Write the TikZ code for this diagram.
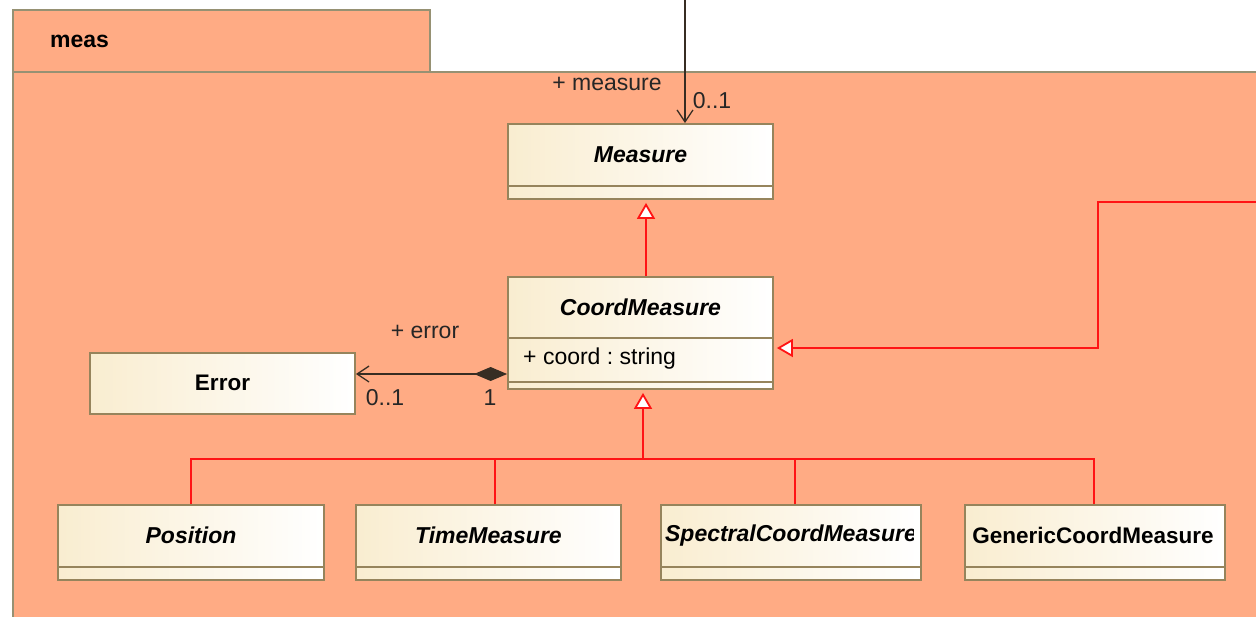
\documentclass[tikz,border=0pt]{standalone}
\usepackage{fontspec}
\setmainfont{Liberation Sans}
\usetikzlibrary{arrows.meta}
\frenchspacing
\definecolor{pkgfill}{RGB}{255,171,132}
\definecolor{pkgline}{RGB}{150,145,115}
\definecolor{clsline}{RGB}{150,132,92}
\definecolor{clsleft}{RGB}{249,237,208}
\definecolor{assocline}{RGB}{55,45,35}
\definecolor{genred}{RGB}{255,20,20}
\tikzset{
  pkg/.style={draw=pkgline, fill=pkgfill, line width=1.2pt},
  cls/.style={draw=clsline, line width=1.8pt, left color=clsleft, right color=white, inner sep=0pt, rectangle},
  divider/.style={draw=clsline, line width=1.8pt},
  clsname/.style={font=\fontsize{23}{25}\selectfont\bfseries\itshape, inner sep=0pt},
  clsnameup/.style={font=\fontsize{22.5}{25}\selectfont\bfseries, inner sep=0pt},
  attr/.style={font=\fontsize{23}{25}\selectfont, inner sep=0pt, anchor=west},
  lbl/.style={font=\fontsize{23}{25}\selectfont, inner sep=0pt, text=black!85},
  genline/.style={draw=genred, line width=1.8pt},
  genarrow/.style={genline, -{Triangle[width=18pt,length=16pt,fill=white]}, shorten >=3pt},
  assoc/.style={draw=assocline, line width=1.5pt},
}
\begin{document}
\begin{tikzpicture}[x=1pt,y=-1pt]
\useasboundingbox (0,0) rectangle (1256,616);
\begin{scope}
\clip (0,0) rectangle (1256,616);
% package
\path[pkg] (13,10) rectangle (430,72);
\path[pkg] (13,72) rectangle (1262,625);
\node[font=\fontsize{23}{25}\selectfont\bfseries, anchor=west, inner sep=0pt] (pkgname) at (50,41) {meas};

% classes
\node[cls, minimum width=265pt, minimum height=75pt] (measure) at (640.5,161.5) {};
\draw[divider] (508,186) -- (773,186);
\node[clsname] (measuret) at (640.5,155) {Measure};

\node[cls, minimum width=265pt, minimum height=112pt] (coord) at (640.5,333) {};
\draw[divider] (508,338) -- (773,338);
\draw[divider] (508,382) -- (773,382);
\node[clsname] (coordt) at (640.5,307.5) {CoordMeasure};
\node[attr] (coorda) at (523,359) {+ coord : string};

\node[cls, minimum width=265pt, minimum height=61pt] (error) at (222.5,383.5) {};
\node[clsnameup] (errort) at (222.5,383) {Error};

\node[cls, minimum width=266pt, minimum height=75pt] (position) at (191,542.5) {};
\draw[divider] (58,567) -- (324,567);
\node[clsname] (positiont) at (191,535.5) {Position};

\node[cls, minimum width=265pt, minimum height=75pt] (time) at (488.5,542.5) {};
\draw[divider] (356,567) -- (621,567);
\node[clsname] (timet) at (488.5,535.5) {TimeMeasure};

\node[cls, minimum width=260pt, minimum height=75pt] (spectral) at (791,542.5) {};
\draw[divider] (661,567) -- (921,567);
\begin{scope}
\clip (665,506) rectangle (913,565);
\node[clsname] (spectralt) at (791,535.5) {SpectralCoordMeasure};
\end{scope}

\node[cls, minimum width=260pt, minimum height=75pt] (generic) at (1095,542.5) {};
\draw[divider] (965,567) -- (1225,567);
\node[clsnameup] (generict) at (1093,535.5) {GenericCoordMeasure};

% generalizations
\coordinate (junction) at (643,459);
\draw[genarrow] ([xshift=5.5pt]coord.north) -- ([xshift=5.5pt]measure.south);
\draw[genline] (position.north) |- (junction);
\draw[genline] ([xshift=6.5pt]time.north) |- (junction);
\draw[genline] ([xshift=4pt]spectral.north) |- (junction);
\draw[genline] ([xshift=-1pt]generic.north) |- (junction);
\draw[genarrow] (junction) -- (junction |- coord.south);
\coordinate (ext) at (1262,202);
\coordinate (bend) at (1098,348);
\draw[genarrow] (ext) -| (bend) -- (coord.east |- bend);

% associations
\coordinate (top) at (685,-5);
\draw[assoc, -{Straight Barb[length=12pt,width=16pt,line width=1.3pt]}] (top) -- (top |- measure.north);
\node[lbl] (measrole) at (607,84) {+ measure};
\node[lbl] (measmult) at (712,101) {0..1};

\coordinate (errlvl) at (0,374);
\draw[assoc, {Diamond[length=33pt,width=14pt,fill=assocline]}-{Straight Barb[length=12pt,width=16pt,line width=1.3pt]}] (coord.west |- errlvl) -- (error.east |- errlvl);
\node[lbl] (errrole) at (425,332) {+ error};
\node[lbl] (errmult) at (385,398) {0..1};
\node[lbl] (errone) at (490,398) {1};
\end{scope}
\end{tikzpicture}
\end{document}
